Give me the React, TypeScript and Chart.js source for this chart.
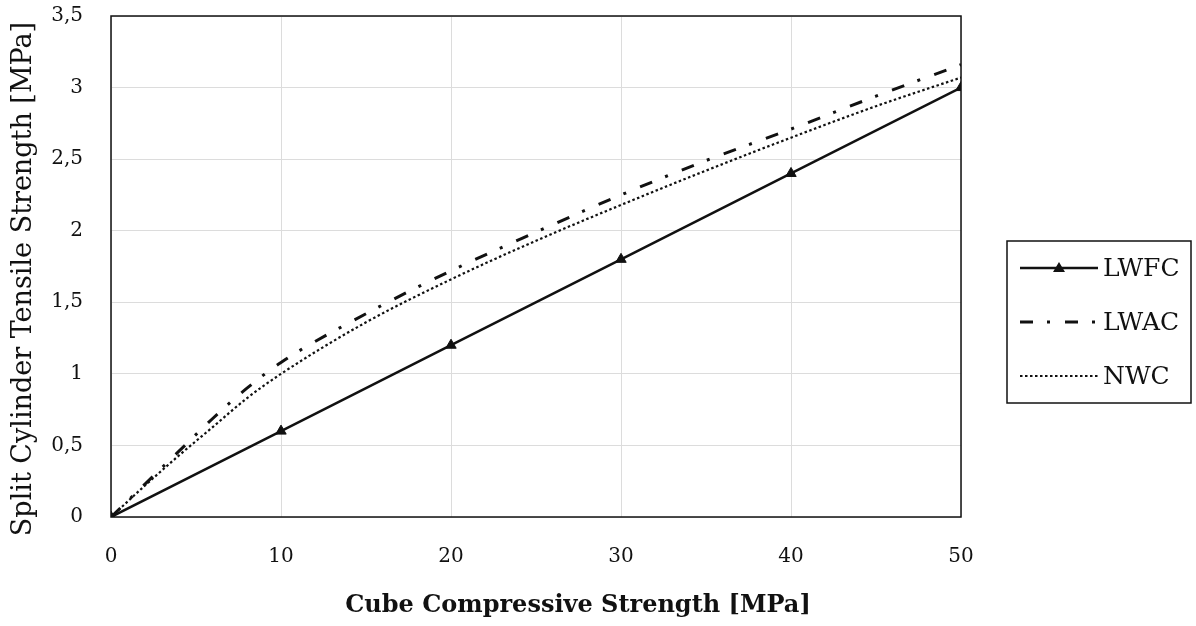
import { useEffect, useRef } from "react";
import { Chart, registerables } from "chart.js";

Chart.register(...registerables);

// ---- data ----
const seriesNames = ["LWFC", "LWAC", "NWC"];
const lwfcX = [0, 10, 20, 30, 40, 50];
const lwfcY = [0, 0.6, 1.2, 1.8, 2.4, 3.0];
const curveX = [0, 2, 4, 6, 8, 10, 15, 20, 25, 30, 35, 40, 45, 50];
const lwacY = [0, 0.23, 0.46, 0.69, 0.9, 1.08, 1.42, 1.72, 1.99, 2.25, 2.49, 2.71, 2.94, 3.16];
const nwcY = [0, 0.22, 0.43, 0.63, 0.83, 1.0, 1.36, 1.66, 1.93, 2.18, 2.42, 2.65, 2.87, 3.07];
const xTicks = [0, 10, 20, 30, 40, 50];
const yTicks = [0, 0.5, 1, 1.5, 2, 2.5, 3, 3.5];
const xTitle = "Cube Compressive Strength [MPa]";
const yTitle = "Split Cylinder Tensile Strength [MPa]";

const FONT = "'DejaVu Serif', serif";
const DASH_DOT = [13, 14, 3, 15];
const DOTTED = [2.5, 2.5];

const toPts = (xs: number[], ys: number[]) => xs.map((x, i) => ({ x, y: ys[i] }));

const decorPlugin = {
  id: "decor",
  beforeDatasetsDraw(chart: any) {
    const { ctx, chartArea: a } = chart;
    ctx.save();
    ctx.strokeStyle = "#111";
    ctx.lineWidth = 1.5;
    ctx.strokeRect(a.left, a.top, a.right - a.left, a.bottom - a.top);
    ctx.restore();
  },
  afterDraw(chart: any) {
    const { ctx } = chart;
    ctx.save();
    ctx.fillStyle = "#111";
    // x title
    ctx.font = `bold 24px ${FONT}`;
    ctx.textAlign = "center";
    ctx.textBaseline = "middle";
    ctx.fillText(xTitle, 578, 606);
    // y title
    ctx.save();
    ctx.translate(24, 279);
    ctx.rotate(-Math.PI / 2);
    ctx.font = `27px ${FONT}`;
    ctx.fillText(yTitle, 0, 0);
    ctx.restore();

    // legend box
    const bx = 1007, by = 241, bw = 184, bh = 162;
    ctx.strokeStyle = "#111";
    ctx.lineWidth = 1.5;
    ctx.strokeRect(bx, by, bw, bh);
    const rows = [268, 322, 376];
    const dashes = [[], DASH_DOT, DOTTED];
    const widths = [2.5, 3, 2.2];
    ctx.font = `25px ${FONT}`;
    ctx.textAlign = "left";
    rows.forEach((ry, i) => {
      ctx.beginPath();
      ctx.setLineDash(dashes[i]);
      ctx.lineWidth = widths[i];
      ctx.moveTo(1020, ry);
      ctx.lineTo(1098, ry);
      ctx.stroke();
      ctx.setLineDash([]);
      if (i === 0) {
        ctx.beginPath();
        ctx.moveTo(1059, ry - 6);
        ctx.lineTo(1065, ry + 4);
        ctx.lineTo(1053, ry + 4);
        ctx.closePath();
        ctx.fill();
      }
      ctx.fillText(seriesNames[i], 1103, ry + 1);
    });
    ctx.restore();
  },
};

export default function App() {
  const ref = useRef<HTMLCanvasElement | null>(null);
  useEffect(() => {
    document.body.style.margin = "0";
    document.body.style.background = "#fff";
    const canvas = ref.current!;
    const chart = new Chart(canvas, {
      type: "scatter",
      data: {
        datasets: [
          {
            label: seriesNames[0],
            data: toPts(lwfcX, lwfcY),
            showLine: true,
            borderColor: "#111",
            backgroundColor: "#111",
            borderWidth: 2.5,
            pointStyle: "triangle",
            pointRadius: 6,
            pointBorderWidth: 1,
          },
          {
            label: seriesNames[1],
            data: toPts(curveX, lwacY),
            showLine: true,
            borderColor: "#111",
            borderWidth: 3,
            borderDash: DASH_DOT,
            pointRadius: 0,
            cubicInterpolationMode: "monotone",
          },
          {
            label: seriesNames[2],
            data: toPts(curveX, nwcY),
            showLine: true,
            borderColor: "#111",
            borderWidth: 2.2,
            borderDash: DOTTED,
            pointRadius: 0,
            cubicInterpolationMode: "monotone",
          },
        ],
      },
      options: {
        animation: false,
        responsive: false,
        devicePixelRatio: 1,
        layout: { autoPadding: false, padding: { top: 16, right: 235, left: 0, bottom: 0 } },
        plugins: { legend: { display: false }, tooltip: { enabled: false } },
        scales: {
          x: {
            type: "linear",
            min: 0,
            max: 50,
            afterFit: (s: any) => { s.height = 109; s.paddingLeft = 0; s.paddingRight = 0; },
            afterBuildTicks: (s: any) => { s.ticks = xTicks.map((v) => ({ value: v })); },
            border: { display: false },
            grid: { color: "#dcdcdc", lineWidth: 1, drawTicks: false },
            ticks: { padding: 28, color: "#111", font: { family: FONT, size: 20 } },
          },
          y: {
            type: "linear",
            min: 0,
            max: 3.5,
            afterFit: (s: any) => { s.width = 111; s.paddingTop = 0; s.paddingBottom = 0; },
            afterBuildTicks: (s: any) => { s.ticks = yTicks.map((v) => ({ value: v })); },
            border: { display: false },
            grid: { color: "#dcdcdc", lineWidth: 1, drawTicks: false },
            ticks: {
              padding: 28,
              color: "#111",
              font: { family: FONT, size: 20 },
              callback: (v: any) => String(v).replace(".", ","),
            },
          },
        },
      },
      plugins: [decorPlugin],
    });
    return () => chart.destroy();
  }, []);
  return <canvas ref={ref} width={1196} height={626} style={{ display: "block" }} />;
}
